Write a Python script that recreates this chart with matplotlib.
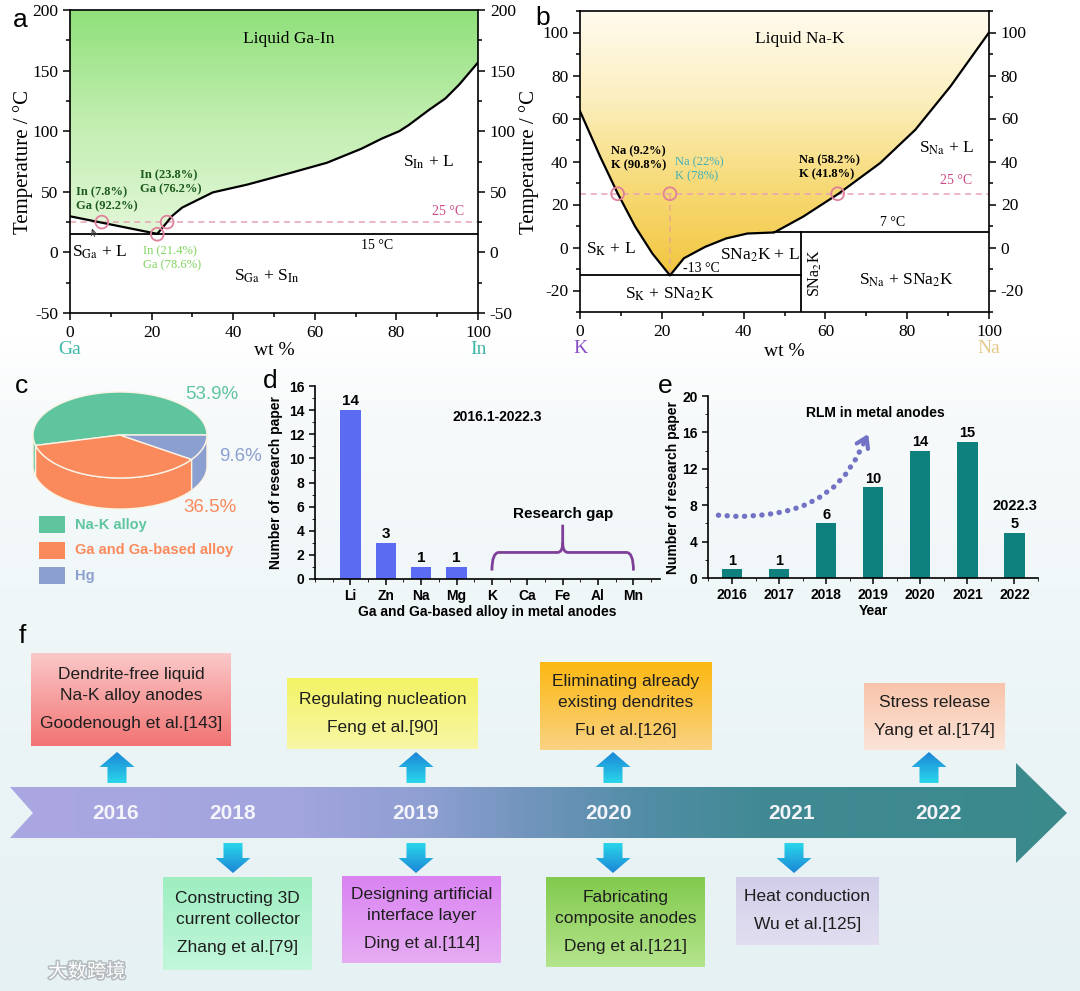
import numpy as np
import matplotlib.pyplot as plt
from matplotlib.patches import Polygon, Rectangle, PathPatch
from matplotlib.path import Path
from matplotlib.colors import LinearSegmentedColormap
from matplotlib.ticker import MultipleLocator
import matplotlib.patheffects as pe

plt.rcParams['font.family'] = ['Liberation Serif', 'DejaVu Serif']
plt.rcParams['mathtext.fontset'] = 'stix'
plt.rcParams['axes.unicode_minus'] = False
SANS = 'Liberation Sans'

# ---------------- data ----------------
# a: Ga-In phase diagram (liquidus)
gain_x = [0, 21.4, 23.8, 25, 27.5, 35, 43.5, 54.5, 63, 71.4, 76.5, 80.7, 83, 88, 92, 95.4, 100]
gain_T = [29.8, 15.3, 25, 30, 37, 49.5, 56, 66, 74, 85.5, 94, 100, 105, 117.6, 127, 138.5, 156.7]
gain_eutectic = 15
gain_mark_x = [7.8, 23.8, 21.4]
gain_mark_T = [25, 25, 15]

# b: Na-K phase diagram
nak_x = [0, 4.9, 9.2, 13.5, 17.7, 22, 25.4, 30.6, 35.7, 40.9, 47.5, 54.6, 63.2, 73.4, 82, 90.6, 100]
nak_T = [63.4, 42.4, 25.2, 9.7, -2.8, -13, -5, 0.3, 4.2, 6.5, 7.0, 14.4, 25, 39.3, 54.8, 75, 100]
nak_eutectic = -13
nak_peritectic = 7
nak_compound_x = 54
nak_mark_x = [9.2, 22, 63]
nak_mark_T = [25, 25, 25]

# c: share of research by metal
pie_labels = ['Na-K alloy', 'Ga and Ga-based alloy', 'Hg']
pie_values = [53.9, 36.5, 9.6]
pie_colors = ['#5fc59f', '#fa8a5c', '#8c9fd1']

# d: Ga-based alloys per metal anode
d_metals = ['Li', 'Zn', 'Na', 'Mg', 'K', 'Ca', 'Fe', 'Al', 'Mn']
d_counts = [14, 3, 1, 1, 0, 0, 0, 0, 0]

# e: RLM papers per year
e_years = ['2016', '2017', '2018', '2019', '2020', '2021', '2022']
e_counts = [1, 1, 6, 10, 14, 15, 5]
trend_x = [-0.29, 0.17, 0.6, 0.91, 1.27, 1.59, 1.87, 2.16, 2.4, 2.62, 2.78]
trend_y = [6.9, 6.75, 6.9, 7.1, 7.5, 8.1, 8.9, 10.0, 11.3, 13.0, 14.6]

# f: timeline
year_labels = ['2016', '2018', '2019', '2020', '2021', '2022']
year_x = [116, 233, 416, 608, 792, 938]
top_titles = ['Dendrite-free liquid\nNa-K alloy anodes', 'Regulating nucleation',
              'Eliminating already\nexisting dendrites', 'Stress release']
top_refs = ['Goodenough et al.[143]', 'Feng et al.[90]', 'Fu et al.[126]', 'Yang et al.[174]']
top_arrow_x = [117, 416, 613, 929]
top_boxes = [(31, 653, 231, 746), (287, 678, 478, 749), (540, 662, 712, 750), (864, 683, 1005, 750)]
top_colors = [('#fbc8c8', '#f27474'), ('#f3f366', '#f7f7a6'), ('#fdb812', '#f9d282'), ('#f9c4aa', '#fbe4d8')]
bottom_titles = ['Constructing 3D\ncurrent collector', 'Designing artificial\ninterface layer',
                 'Fabricating\ncomposite anodes', 'Heat conduction']
bottom_refs = ['Zhang et al.[79]', 'Ding et al.[114]', 'Deng et al.[121]', 'Wu et al.[125]']
bottom_arrow_x = [233, 416, 613, 794]
bottom_boxes = [(163, 877, 312, 970), (342, 876, 501, 963), (546, 877, 705, 967), (736, 877, 879, 945)]
bottom_colors = [('#9eeec0', '#c2f7dc'), ('#da84f2', '#e6acf2'), ('#82ca4e', '#b4e48c'), ('#d2cee9', '#e2def0')]

W, H = 1080, 991
fig = plt.figure(figsize=(W / 100, H / 100), dpi=100)


def rect(x0, y0, x1, y1):
    return [x0 / W, 1 - y1 / H, (x1 - x0) / W, (y1 - y0) / H]


# background
bg = fig.add_axes([0, 0, 1, 1], zorder=-10)
bg.axis('off')
bg_cmap = LinearSegmentedColormap.from_list('bg', [(0, '#ffffff'), (0.34, '#ffffff'), (0.42, '#f7fafb'),
                                                  (0.65, '#eef6f7'), (1, '#e6f1f3')])
bg.imshow(np.linspace(0, 1, 256)[:, None], cmap=bg_cmap, extent=[0, 1, 0, 1], aspect='auto')
bg.set_xlim(0, 1)
bg.set_ylim(0, 1)


def serif_axes(ax):
    for s in ax.spines.values():
        s.set_linewidth(1.2)
    ax.tick_params(which='both', direction='out', right=True, labelright=True, top=False, labelsize=12.5, width=1.1)
    ax.tick_params(which='major', length=5)
    ax.tick_params(which='minor', length=3)


# ---------------- panel a ----------------
ax_a = fig.add_axes(rect(70, 10, 478, 313))
liq_a = Polygon(list(zip(gain_x, gain_T)) + [(100, 200), (0, 200)], closed=True, fc='none', ec='none')
ax_a.add_patch(liq_a)
cm_a = LinearSegmentedColormap.from_list('ga', ['#e2f7d8', '#c2eeb0', '#8fe07a'])
im = ax_a.imshow(np.linspace(0, 1, 256)[:, None], cmap=cm_a, extent=[0, 100, 15, 200],
                 origin='lower', aspect='auto', zorder=0)
im.set_clip_path(liq_a)
ax_a.plot(gain_x, gain_T, color='black', lw=1.6, zorder=3)
ax_a.axhline(gain_eutectic, color='black', lw=1.3, zorder=3)
ax_a.axhline(25, color='#e6a3b3', lw=1.1, ls=(0, (4, 3)), zorder=2)
ax_a.scatter(gain_mark_x, gain_mark_T, s=85, facecolors='none', edgecolors='#e0809a', lw=1.3, zorder=4)
ax_a.set_xlim(0, 100)
ax_a.set_ylim(-50, 200)
ax_a.set_xticks(range(0, 101, 20))
ax_a.set_yticks(range(-50, 201, 50))
ax_a.xaxis.set_minor_locator(MultipleLocator(10))
ax_a.yaxis.set_minor_locator(MultipleLocator(25))
serif_axes(ax_a)
ax_a.set_ylabel('Temperature / °C', fontsize=15)
ax_a.yaxis.set_label_coords(-0.09, 0.5)
ax_a.text(0.5, -0.125, 'wt %', transform=ax_a.transAxes, ha='center', va='center', fontsize=14)
ax_a.text(0, -0.122, 'Ga', transform=ax_a.get_xaxis_transform(), ha='center', va='center', fontsize=14, color='#3fb7a8')
ax_a.text(100, -0.122, 'In', transform=ax_a.get_xaxis_transform(), ha='center', va='center', fontsize=14, color='#3fb7a8')
ax_a.text(53.7, 176, 'Liquid Ga-In', ha='center', va='center', fontsize=12.5)
ax_a.text(1.4, 44, 'In (7.8%)\nGa (92.2%)', ha='left', va='center', fontsize=9, fontweight='bold',
          color='#1d5a1d', linespacing=1.25)
ax_a.text(17.2, 58, 'In (23.8%)\nGa (76.2%)', ha='left', va='center', fontsize=9, fontweight='bold',
          color='#1d5a1d', linespacing=1.25)
ax_a.text(17.8, -5, 'In (21.4%)\nGa (78.6%)', ha='left', va='center', fontsize=9,
          color='#7ed45e', linespacing=1.25)
ax_a.text(92.6, 33.8, '25 °C', ha='center', va='center', fontsize=10, color='#cc4a86')
ax_a.text(75.2, 6, '15 °C', ha='center', va='center', fontsize=10)
ax_a.text(7.2, 0.3, r'S$_{\rm Ga}$ + L', ha='center', va='center', fontsize=12.5)
ax_a.text(87.9, 74, r'S$_{\rm In}$ + L', ha='center', va='center', fontsize=12.5)
ax_a.text(48.2, -19.5, r'S$_{\rm Ga}$ + S$_{\rm In}$', ha='center', va='center', fontsize=12.5)
ax_a.annotate('', xy=(5.2, 22), xytext=(6.2, 11),
              arrowprops=dict(arrowstyle='->', color='#444444', lw=0.8))

# ---------------- panel b ----------------
ax_b = fig.add_axes(rect(580, 11, 989, 312))
liq_b = Polygon(list(zip(nak_x, nak_T)) + [(100, 110), (0, 110)], closed=True, fc='none', ec='none')
ax_b.add_patch(liq_b)
cm_b = LinearSegmentedColormap.from_list('nk', ['#f2c640', '#f7da76', '#fcefbf', '#fffbef'])
im = ax_b.imshow(np.linspace(0, 1, 256)[:, None], cmap=cm_b, extent=[0, 100, -13, 110],
                 origin='lower', aspect='auto', zorder=0)
im.set_clip_path(liq_b)
ax_b.plot(nak_x, nak_T, color='black', lw=1.6, zorder=3)
ax_b.plot([0, nak_compound_x], [nak_eutectic, nak_eutectic], color='black', lw=1.3, zorder=3)
ax_b.plot([47.5, 100], [nak_peritectic, nak_peritectic], color='black', lw=1.3, zorder=3)
ax_b.plot([nak_compound_x, nak_compound_x], [-30, nak_peritectic], color='black', lw=1.3, zorder=3)
ax_b.axhline(25, color='#e6a3b3', lw=1.1, ls=(0, (4, 3)), zorder=2)
ax_b.plot([22, 22], [nak_eutectic, 25], color='#eba88c', lw=1.1, ls=(0, (4, 3)), zorder=2)
ax_b.scatter(nak_mark_x, nak_mark_T, s=85, facecolors='none', edgecolors='#e0809a', lw=1.3, zorder=4)
ax_b.set_xlim(0, 100)
ax_b.set_ylim(-30, 110)
ax_b.set_xticks(range(0, 101, 20))
ax_b.set_yticks(range(-20, 101, 20))
ax_b.xaxis.set_minor_locator(MultipleLocator(10))
ax_b.yaxis.set_minor_locator(MultipleLocator(10))
serif_axes(ax_b)
ax_b.set_ylabel('Temperature / °C', fontsize=15)
ax_b.yaxis.set_label_coords(-0.1, 0.5)
ax_b.text(0.5, -0.13, 'wt %', transform=ax_b.transAxes, ha='center', va='center', fontsize=14)
ax_b.text(0, -0.122, 'K', transform=ax_b.get_xaxis_transform(), ha='center', va='center', fontsize=14, color='#8a4fc8')
ax_b.text(100, -0.122, 'Na', transform=ax_b.get_xaxis_transform(), ha='center', va='center', fontsize=14, color='#e6c98c')
ax_b.text(53.7, 96.8, 'Liquid Na-K', ha='center', va='center', fontsize=12.5)
ax_b.text(7.6, 41.5, 'Na (9.2%)\nK (90.8%)', ha='left', va='center', fontsize=9, fontweight='bold', linespacing=1.25)
ax_b.text(23.3, 36.5, 'Na (22%)\nK (78%)', ha='left', va='center', fontsize=9, color='#3fb0b8', linespacing=1.25)
ax_b.text(53.6, 37.2, 'Na (58.2%)\nK (41.8%)', ha='left', va='center', fontsize=9, fontweight='bold', linespacing=1.25)
ax_b.text(91.9, 31, '25 °C', ha='center', va='center', fontsize=10, color='#cc4a86')
ax_b.text(76.4, 11.5, '7 °C', ha='center', va='center', fontsize=10)
ax_b.text(29.7, -10, '-13 °C', ha='center', va='center', fontsize=10)
ax_b.text(7.5, -1, r'S$_{\rm K}$ + L', ha='center', va='center', fontsize=12.5)
ax_b.text(43.9, -3.6, r'SNa$_2$K + L', ha='center', va='center', fontsize=12.5)
ax_b.text(22, -21.6, r'S$_{\rm K}$ + SNa$_2$K', ha='center', va='center', fontsize=12.5)
ax_b.text(57.6, -12.2, r'SNa$_2$K', ha='center', va='center', fontsize=11.5, rotation=90)
ax_b.text(79.9, -15.3, r'S$_{\rm Na}$ + SNa$_2$K', ha='center', va='center', fontsize=12.5)
ax_b.text(89.7, 46.2, r'S$_{\rm Na}$ + L', ha='center', va='center', fontsize=12.5)

# ---------------- panel c (3D pie) ----------------
ax_c = fig.add_axes(rect(0, 360, 270, 600))
ax_c.set_xlim(0, 270)
ax_c.set_ylim(600, 360)
ax_c.axis('off')
cx, cy, rx, ry, depth = 120, 435, 87, 43, 31
edges = np.concatenate([[0], np.cumsum(pie_values) / np.sum(pie_values) * 360])
for i, col in enumerate(pie_colors):
    lo, hi = max(edges[i], 180), min(edges[i + 1], 360)
    if hi > lo:
        t = np.radians(np.linspace(lo, hi, 80))
        xs = cx + rx * np.cos(t)
        ys = cy - ry * np.sin(t)
        pts = list(zip(xs, ys)) + list(zip(xs[::-1], ys[::-1] + depth))
        ax_c.add_patch(Polygon(pts, closed=True, fc=col, ec='#fbf3e4', lw=1.0, zorder=1))
for i, col in enumerate(pie_colors):
    t = np.radians(np.linspace(edges[i], edges[i + 1], 120))
    pts = [(cx, cy)] + list(zip(cx + rx * np.cos(t), cy - ry * np.sin(t)))
    ax_c.add_patch(Polygon(pts, closed=True, fc=col, ec='#fbf3e4', lw=1.0, zorder=2))
pct_pos = [(212, 395), (210, 508), (240, 457)]
for (px, py), v, col in zip(pct_pos, pie_values, pie_colors):
    ax_c.text(px, py, f'{v}%', ha='center', va='center', fontsize=13.5, color=col, family=SANS)
for i, (lab, col) in enumerate(zip(pie_labels, pie_colors)):
    yy = 525 + 25.5 * i
    ax_c.add_patch(Rectangle((39, yy - 8.5), 26, 17, fc=col, ec='none'))
    ax_c.text(75, yy, lab, ha='left', va='center', fontsize=10.5, fontweight='bold', color=col, family=SANS)


def sans_ticks(ax):
    ax.tick_params(labelfontfamily=SANS, labelsize=10, width=1.1)
    for lab in ax.get_xticklabels() + ax.get_yticklabels():
        lab.set_fontweight('bold')
    for s in ['top', 'right']:
        ax.spines[s].set_visible(False)
    for s in ['left', 'bottom']:
        ax.spines[s].set_linewidth(1.2)


# ---------------- panel d ----------------
ax_d = fig.add_axes(rect(315, 386, 660, 579))
ax_d.set_facecolor('none')
ax_d.bar(range(len(d_metals)), d_counts, width=0.58, color='#5b6cf2')
for i, v in enumerate(d_counts):
    if v > 0:
        ax_d.text(i, v + 0.15, str(v), ha='center', va='bottom', fontsize=11, fontweight='bold', family=SANS)
ax_d.set_xlim(-1, 8.75)
ax_d.set_ylim(0, 16)
ax_d.set_xticks(range(len(d_metals)))
ax_d.set_xticklabels(d_metals)
ax_d.set_yticks(range(0, 17, 2))
ax_d.xaxis.set_minor_locator(MultipleLocator(0.5))
ax_d.yaxis.set_minor_locator(MultipleLocator(1))
ax_d.tick_params(which='major', length=4)
ax_d.tick_params(which='minor', length=2.5)
sans_ticks(ax_d)
ax_d.set_ylabel('Number of research paper', fontsize=10, fontweight='bold', family=SANS)
ax_d.yaxis.set_label_coords(-0.093, 0.5)
ax_d.set_xlabel('Ga and Ga-based alloy in metal anodes', fontsize=10, fontweight='bold', family=SANS, labelpad=1)
ax_d.text(4.15, 13.4, '2016.1-2022.3', ha='center', va='center', fontsize=10, fontweight='bold', family=SANS)
ax_d.text(6.0, 5.4, 'Research gap', ha='center', va='center', fontsize=11, fontweight='bold', family=SANS)
brace = Path([(4, 0.7), (4, 2.2), (4.2, 2.2), (5.85, 2.2), (6, 2.2), (6, 3.0), (6, 4.5),
              (6, 3.0), (6, 2.2), (6.15, 2.2), (7.8, 2.2), (8, 2.2), (8, 0.7)],
             [Path.MOVETO, Path.CURVE3, Path.CURVE3, Path.LINETO, Path.CURVE3, Path.CURVE3, Path.LINETO,
              Path.MOVETO, Path.CURVE3, Path.CURVE3, Path.LINETO, Path.CURVE3, Path.CURVE3])
ax_d.add_patch(PathPatch(brace, fc='none', ec='#7e3f98', lw=2))

# ---------------- panel e ----------------
ax_e = fig.add_axes(rect(708, 396, 1038, 578))
ax_e.set_facecolor('none')
ax_e.bar(range(len(e_years)), e_counts, width=0.43, color='#0e807e')
for i, v in enumerate(e_counts):
    ax_e.text(i, v + 0.15, str(v), ha='center', va='bottom', fontsize=10.5, fontweight='bold', family=SANS)
ax_e.text(6, 7.9, '2022.3', ha='center', va='center', fontsize=10.5, fontweight='bold', family=SANS)
ax_e.set_xlim(-0.51, 6.5)
ax_e.set_ylim(0, 20)
ax_e.set_xticks(range(len(e_years)))
ax_e.set_xticklabels(e_years)
ax_e.set_yticks(range(0, 21, 4))
ax_e.yaxis.set_minor_locator(MultipleLocator(2))
ax_e.xaxis.set_minor_locator(MultipleLocator(0.5))
ax_e.tick_params(which='major', length=4)
ax_e.tick_params(which='minor', length=2.5)
sans_ticks(ax_e)
ax_e.set_ylabel('Number of research paper', fontsize=10, fontweight='bold', family=SANS)
ax_e.yaxis.set_label_coords(-0.085, 0.5)
ax_e.set_xlabel('Year', fontsize=10, fontweight='bold', family=SANS, labelpad=1)
ax_e.text(3.04, 18.1, 'RLM in metal anodes', ha='center', va='center', fontsize=10, fontweight='bold', family=SANS)
ax_e.plot(trend_x, trend_y, color='#7273c4', lw=3.8, ls=(0, (0.05, 1.6)), solid_capstyle='round',
          dash_capstyle='round')
ax_e.annotate('', xy=(2.92, 16.1), xytext=(2.76, 14.4),
              arrowprops=dict(arrowstyle='->,head_length=0.7,head_width=0.45', color='#7273c4', lw=3))

# ---------------- panel f (timeline) ----------------
ax_f = fig.add_axes(rect(0, 620, 1080, 991))
ax_f.axis('off')
band = Polygon([(10, 787), (1016, 787), (1016, 763), (1067, 813), (1016, 863), (1016, 838), (10, 838), (33, 813)],
               closed=True, fc='none', ec='none')
ax_f.add_patch(band)
band_cmap = LinearSegmentedColormap.from_list('band', [(0, '#aba7e3'), (0.27, '#a2a5de'), (0.39, '#8f9fd2'),
                                                      (0.5, '#6f94bb'), (0.6, '#528da6'), (0.71, '#418a94'),
                                                      (1, '#3a898b')])
im = ax_f.imshow(np.linspace(0, 1, 256)[None, :], cmap=band_cmap, extent=[10, 1067, 863, 763],
                 aspect='auto', zorder=1)
im.set_clip_path(band)
for lab, x in zip(year_labels, year_x):
    ax_f.text(x, 814, lab, ha='center', va='center', fontsize=15, fontweight='bold', color='#f4f4fb',
              family=SANS, zorder=3)

up_cmap = LinearSegmentedColormap.from_list('up', ['#1b86d6', '#2ad6ea'])
down_cmap = LinearSegmentedColormap.from_list('dn', ['#2ad6ea', '#1b86d6'])


def block_arrow(x, top, bottom, up):
    if up:
        pts = [(x, top), (x + 17.5, top + 15), (x + 9.5, top + 15), (x + 9.5, bottom),
               (x - 9.5, bottom), (x - 9.5, top + 15), (x - 17.5, top + 15)]
    else:
        pts = [(x, bottom), (x + 17.5, bottom - 15), (x + 9.5, bottom - 15), (x + 9.5, top),
               (x - 9.5, top), (x - 9.5, bottom - 15), (x - 17.5, bottom - 15)]
    poly = Polygon(pts, closed=True, fc='none', ec='none')
    ax_f.add_patch(poly)
    img = ax_f.imshow(np.linspace(0, 1, 64)[:, None], cmap=up_cmap if up else down_cmap,
                      extent=[x - 18, x + 18, bottom, top], origin='upper', aspect='auto', zorder=2)
    img.set_clip_path(poly)


def event_box(box, cols, title, ref):
    x0, y0, x1, y1 = box
    cm = LinearSegmentedColormap.from_list('bx', list(cols))
    ax_f.imshow(np.linspace(0, 1, 64)[:, None], cmap=cm, extent=[x0, x1, y1, y0], origin='upper',
                aspect='auto', zorder=2)
    lines = title.split('\n') + [ref]
    steps = [21] * (len(lines) - 2) + [28]
    total = sum(steps)
    y = (y0 + y1) / 2 - total / 2
    xc = (x0 + x1) / 2
    for k, ln in enumerate(lines):
        ax_f.text(xc, y, ln, ha='center', va='center', fontsize=12.5, color='#1e1e1e', family=SANS, zorder=3)
        if k < len(steps):
            y += steps[k]


for x, box, cols, title, ref in zip(top_arrow_x, top_boxes, top_colors, top_titles, top_refs):
    block_arrow(x, 752, 783, True)
    event_box(box, cols, title, ref)
for x, box, cols, title, ref in zip(bottom_arrow_x, bottom_boxes, bottom_colors, bottom_titles, bottom_refs):
    block_arrow(x, 843, 873, False)
    event_box(box, cols, title, ref)

ax_f.text(48, 972, '大数跨境', ha='left', va='center', fontsize=14, color='white',
          family=['Noto Sans CJK SC', 'DejaVu Sans'],
          path_effects=[pe.withStroke(linewidth=2.2, foreground='#b4babd')], zorder=4)
ax_f.set_xlim(0, 1080)
ax_f.set_ylim(991, 620)

# panel letters
for lab, x, y in [('a', 20, 20), ('b', 543, 18), ('c', 22, 386), ('d', 270, 381), ('e', 665, 386), ('f', 22, 636)]:
    fig.text(x / W, 1 - y / H, lab, ha='center', va='center', fontsize=19, family=SANS)

fig.savefig('out.png', dpi=100)
